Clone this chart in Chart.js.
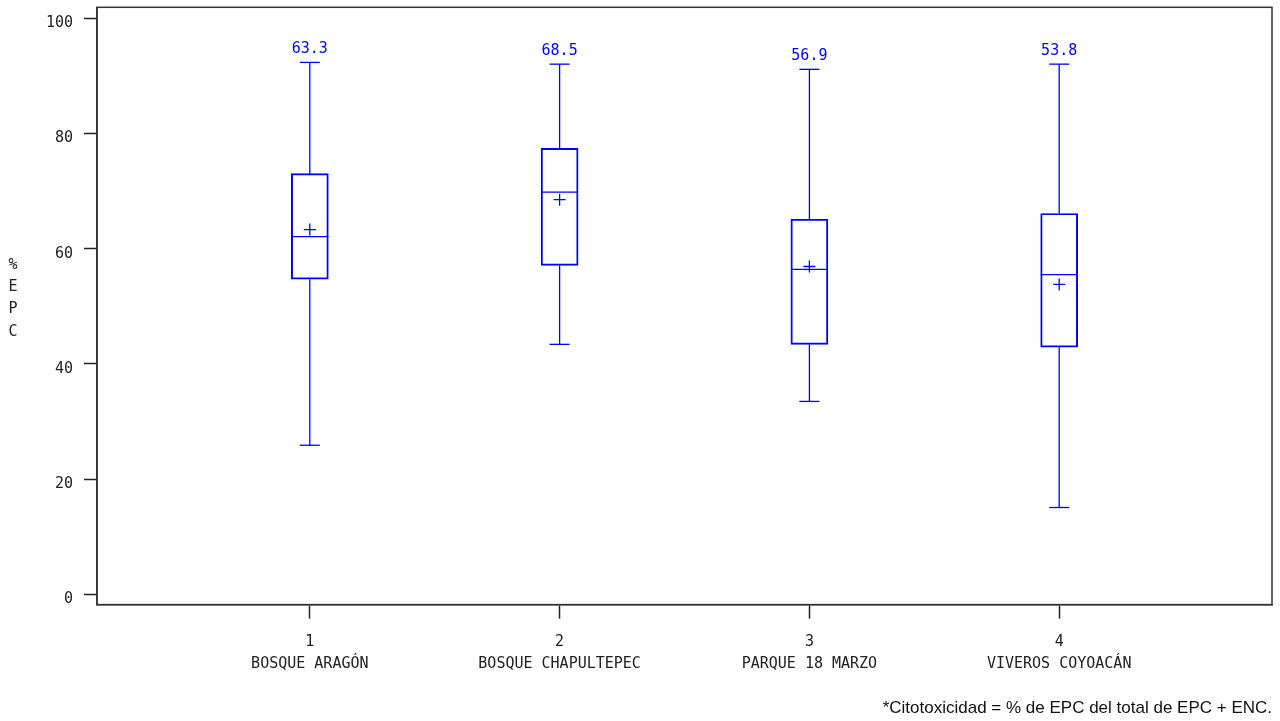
<!DOCTYPE html>
<html lang="es">
<head>
  <meta charset="utf-8" />
  <title>% EPC por sitio</title>
  <script src="https://cdn.jsdelivr.net/npm/chart.js@4/dist/chart.umd.min.js"></script>
  <style>
    html, body { margin: 0; padding: 0; background: #fff; }
    #wrap { width: 1280px; height: 721px; }
  </style>
</head>
<body>
  <div id="wrap"><canvas id="boxplot"></canvas></div>

  <script>
    // data
    const sites = ["BOSQUE ARAGÓN", "BOSQUE CHAPULTEPEC", "PARQUE 18 MARZO", "VIVEROS COYOACÁN"];
    const whiskerLow = [25.9, 43.4, 33.5, 15.1];
    const q1 = [54.7, 57.1, 43.4, 42.9];
    const median = [62.1, 69.8, 56.4, 55.5];
    const q3 = [73.0, 77.4, 65.1, 66.1];
    const whiskerHigh = [92.3, 92.0, 91.1, 92.0];
    const means = [63.3, 68.5, 56.9, 53.8];
    const yTicks = [0, 20, 40, 60, 80, 100];
    const yTitle = ["%", "E", "P", "C"];
    const footnote = "*Citotoxicidad = % de EPC del total de EPC + ENC.";

    const BLUE = "#0000ff";
    const MONO = "'DejaVu Sans Mono', monospace";

    // whiskers, medians, mean labels, frame and stacked y title
    const boxExtras = {
      id: "boxExtras",
      afterDatasetsDraw(chart) {
        const { ctx, chartArea, scales: { x, y } } = chart;
        ctx.save();
        ctx.strokeStyle = BLUE;
        ctx.lineWidth = 1.3;
        const seg = (x1, y1, x2, y2) => {
          ctx.beginPath();
          ctx.moveTo(x1, y1);
          ctx.lineTo(x2, y2);
          ctx.stroke();
        };
        sites.forEach((s, i) => {
          const cx = x.getPixelForValue(i + 1);
          seg(cx, y.getPixelForValue(q3[i]), cx, y.getPixelForValue(whiskerHigh[i]));
          seg(cx, y.getPixelForValue(q1[i]), cx, y.getPixelForValue(whiskerLow[i]));
          seg(cx - 10, y.getPixelForValue(whiskerHigh[i]), cx + 10, y.getPixelForValue(whiskerHigh[i]));
          seg(cx - 10, y.getPixelForValue(whiskerLow[i]), cx + 10, y.getPixelForValue(whiskerLow[i]));
          seg(cx - 18.5, y.getPixelForValue(median[i]), cx + 18.5, y.getPixelForValue(median[i]));

          ctx.fillStyle = BLUE;
          ctx.font = "15px " + MONO;
          ctx.textAlign = "center";
          ctx.textBaseline = "bottom";
          ctx.fillText(means[i].toFixed(1), cx, y.getPixelForValue(whiskerHigh[i]) - 6);
        });

        // frame
        ctx.strokeStyle = "#333";
        ctx.lineWidth = 1.5;
        ctx.strokeRect(chartArea.left, chartArea.top, chartArea.right - chartArea.left, chartArea.bottom - chartArea.top);

        // stacked axis title
        ctx.fillStyle = "#222";
        ctx.font = "15px " + MONO;
        ctx.textAlign = "center";
        ctx.textBaseline = "middle";
        const mid = (chartArea.top + chartArea.bottom) / 2;
        yTitle.forEach((ch, k) => ctx.fillText(ch, 13, mid - 41 + k * 22.3));
        ctx.restore();
      }
    };

    new Chart(document.getElementById("boxplot"), {
      type: "bar",
      data: {
        datasets: [
          {
            label: "Q1–Q3",
            data: sites.map((s, i) => ({ x: i + 1, y: [q1[i], q3[i]] })),
            backgroundColor: "rgba(0,0,0,0)",
            borderColor: BLUE,
            borderWidth: 1.3,
            borderSkipped: false,
            barThickness: 37
          },
          {
            type: "scatter",
            label: "Media",
            data: sites.map((s, i) => ({ x: i + 1, y: means[i] })),
            pointStyle: "cross",
            radius: 6,
            borderColor: BLUE,
            borderWidth: 1.3,
            backgroundColor: BLUE
          }
        ]
      },
      options: {
        responsive: true,
        maintainAspectRatio: false,
        animation: false,
        layout: { padding: { top: 7, right: 8, bottom: 0, left: 0 } },
        plugins: {
          legend: { display: false },
          tooltip: { enabled: false },
          subtitle: {
            display: true,
            text: footnote,
            position: "bottom",
            align: "end",
            color: "#111",
            font: { family: "'Liberation Sans', Arial, sans-serif", size: 17, weight: "normal" },
            padding: { top: 5, bottom: 2 }
          }
        },
        scales: {
          x: {
            type: "linear",
            offset: false,
            min: 0.148,
            max: 4.852,
            afterBuildTicks: s => { s.ticks = sites.map((c, i) => ({ value: i + 1 })); },
            afterFit: s => { s.height = 89; s.paddingLeft = 0; s.paddingRight = 0; },
            grid: { offset: false, drawOnChartArea: false, drawTicks: true, tickLength: 14, tickColor: "#222", tickWidth: 1.5 },
            border: { display: true, color: "#333", width: 1.5 },
            ticks: {
              color: "#222",
              padding: 13,
              maxRotation: 0,
              autoSkip: false,
              font: { family: MONO, size: 15, lineHeight: 1.45 },
              callback: v => [String(v), sites[v - 1]]
            }
          },
          y: {
            min: -1.74,
            max: 101.86,
            afterBuildTicks: s => { s.ticks = yTicks.map(v => ({ value: v })); },
            afterFit: s => { s.width = 97; s.paddingTop = 0; s.paddingBottom = 0; },
            grid: { drawOnChartArea: false, drawTicks: true, tickLength: 13, tickColor: "#222", tickWidth: 1.5 },
            border: { display: true, color: "#333", width: 1.5 },
            ticks: {
              color: "#222",
              padding: 11,
              labelOffset: 5,
              font: { family: MONO, size: 15 }
            }
          }
        }
      },
      plugins: [boxExtras]
    });
  </script>
</body>
</html>
